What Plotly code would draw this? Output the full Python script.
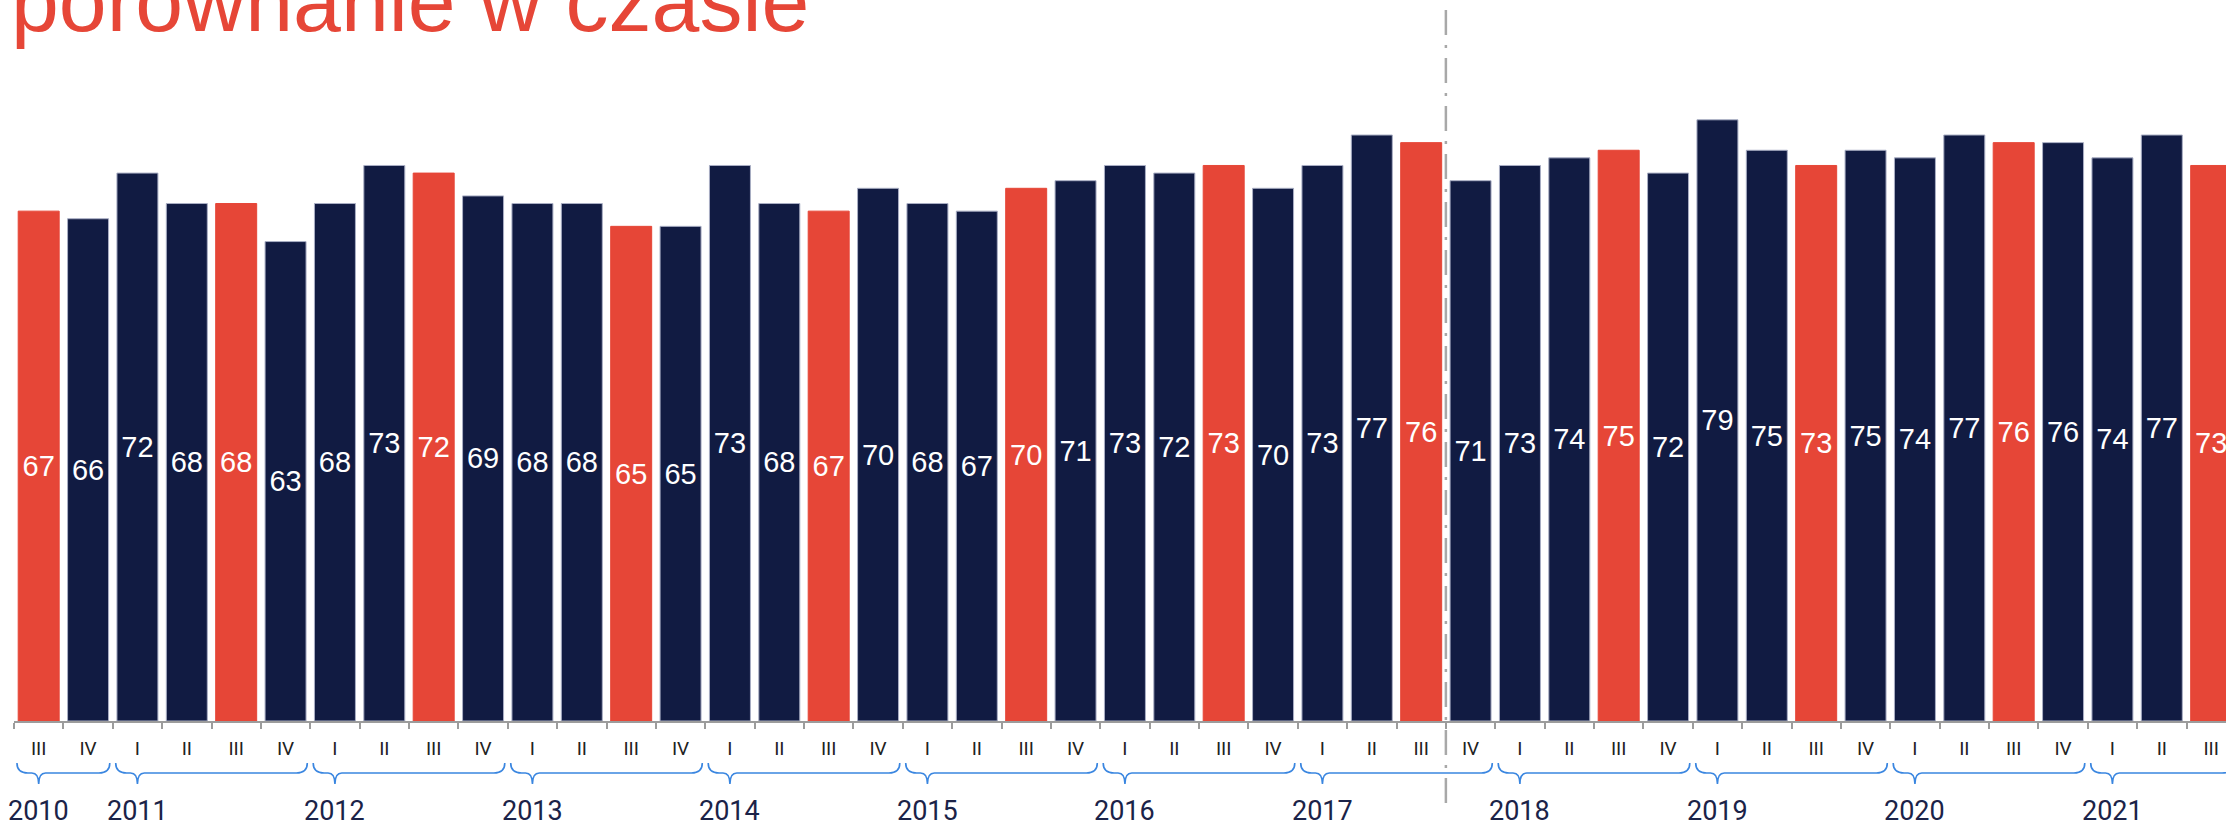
import plotly.graph_objects as go

# ---------------- data ----------------
years = [2010, 2010,
         2011, 2011, 2011, 2011,
         2012, 2012, 2012, 2012,
         2013, 2013, 2013, 2013,
         2014, 2014, 2014, 2014,
         2015, 2015, 2015, 2015,
         2016, 2016, 2016, 2016,
         2017, 2017, 2017, 2017,
         2018, 2018, 2018, 2018,
         2019, 2019, 2019, 2019,
         2020, 2020, 2020, 2020,
         2021, 2021, 2021]
quarters = ["III", "IV",
            "I", "II", "III", "IV",
            "I", "II", "III", "IV",
            "I", "II", "III", "IV",
            "I", "II", "III", "IV",
            "I", "II", "III", "IV",
            "I", "II", "III", "IV",
            "I", "II", "III", "IV",
            "I", "II", "III", "IV",
            "I", "II", "III", "IV",
            "I", "II", "III", "IV",
            "I", "II", "III"]
values = [67, 66,
          72, 68, 68, 63,
          68, 73, 72, 69,
          68, 68, 65, 65,
          73, 68, 67, 70,
          68, 67, 70, 71,
          73, 72, 73, 70,
          73, 77, 76, 71,
          73, 74, 75, 72,
          79, 75, 73, 75,
          74, 77, 76, 76,
          74, 77, 73]
highlight_quarter = "III"
divider_after = "2017 III"
title_text = "porównanie w czasie"

# ---------------- styles ----------------
NAVY = "#111b42"
RED = "#e64637"
OUTLINE = "#a9aec4"
BRACE = "#3a86e0"
AXIS = "#9c9c9c"
YEARCOL = "#1b2348"

W, H = 2226, 827
ML, MB = 14, 106
PLOT_H = H - MB  # plot area height in px (top margin 0)


def py(Y):
    """pixel row -> paper y"""
    return (PLOT_H - Y) / PLOT_H


categories = [f"{y} {q}" for y, q in zip(years, quarters)]
colors = [RED if q == highlight_quarter else NAVY for q in quarters]
lines = [RED if q == highlight_quarter else OUTLINE for q in quarters]

fig = go.Figure(
    go.Bar(
        x=categories,
        y=values,
        marker=dict(color=colors, line=dict(color=lines, width=1)),
        text=[str(v) for v in values],
        textposition="inside",
        insidetextanchor="middle",
        textangle=0,
        constraintext="none",
        textfont=dict(family="Liberation Sans, Arial", size=29, color="white"),
        hoverinfo="skip",
    )
)

# ---------------- year braces + labels ----------------
shapes = []
annotations = []
g = 0.06      # gap from category boundary (data units)
he = 0.22     # end curve length
ht = 0.14     # tip curve length
y_top, y_mid, y_tip = py(763), py(773), py(784)
for yr in sorted(set(years)):
    idx = [i for i, y in enumerate(years) if y == yr]
    a = idx[0] - 0.5 + g
    b = idx[-1] + 0.5 - g
    t = idx[0]
    path = (f"M {a},{y_top} Q {a},{y_mid} {a+he},{y_mid} "
            f"L {t-ht},{y_mid} Q {t},{y_mid} {t},{y_tip} "
            f"Q {t},{y_mid} {t+ht},{y_mid} "
            f"L {b-he},{y_mid} Q {b},{y_mid} {b},{y_top}")
    shapes.append(dict(type="path", xref="x", yref="paper", path=path,
                       line=dict(color=BRACE, width=1.6), layer="above"))
    annotations.append(dict(x=categories[idx[0]], y=py(811), xref="x", yref="paper",
                            text=str(yr), showarrow=False, xanchor="center", yanchor="middle",
                            font=dict(family="Roboto", size=27, color=YEARCOL)))

# ---------------- divider ----------------
xd = categories.index(divider_after) + 0.5
shapes.append(dict(type="line", xref="x", yref="paper", x0=xd, x1=xd, y0=py(10), y1=py(803),
                   line=dict(color="#a8a8a8", width=2.5, dash="25px,10px,3px,10px"), layer="above"))

# ---------------- title ----------------
annotations.append(dict(x=(9 - ML) / (W - ML), y=py(51), xref="paper", yref="paper",
                        text=title_text, showarrow=False, xanchor="left", yanchor="bottom",
                        font=dict(family="Liberation Sans, Arial", size=86, color=RED)))

fig.update_layout(
    width=W, height=H,
    margin=dict(l=ML, r=0, t=0, b=MB, pad=0),
    paper_bgcolor="white", plot_bgcolor="white",
    bargap=0.17,
    showlegend=False,
    shapes=shapes,
    annotations=annotations,
    xaxis=dict(
        type="category",
        range=[-0.5, 44.3],
        tickmode="array", tickvals=categories, ticktext=quarters,
        tickson="boundaries",
        ticks="outside", ticklen=6, tickwidth=1.5, tickcolor=AXIS,
        showline=True, linecolor=AXIS, linewidth=1.5,
        showgrid=False, zeroline=False,
        tickfont=dict(family="Roboto", size=19, color="#222222"),
        ticklabelstandoff=9,
        fixedrange=True,
    ),
    yaxis=dict(range=[0, PLOT_H / 7.61], visible=False, fixedrange=True),
)

fig.write_html(
    "out.html",
    config={"displayModeBar": False},
    post_script="document.body.style.margin='0';document.body.style.overflow='hidden';",
)
